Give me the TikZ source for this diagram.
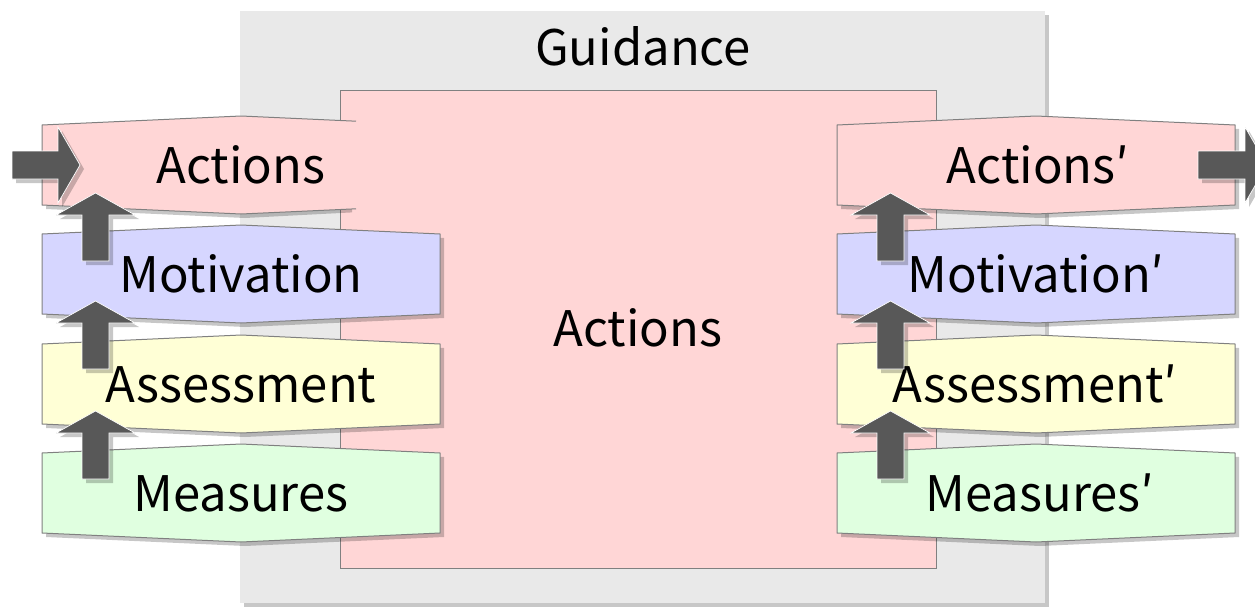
\documentclass[tikz,border=0pt]{standalone}
\usepackage{fontspec}
\setmainfont{Noto Sans CJK JP}
\usetikzlibrary{shadows}
\definecolor{bgGray}{RGB}{233,233,233}
\definecolor{pinkF}{RGB}{255,214,214}
\definecolor{blueF}{RGB}{214,214,255}
\definecolor{yelF}{RGB}{255,255,214}
\definecolor{greenF}{RGB}{224,255,224}
\definecolor{edgeG}{RGB}{128,128,128}
\definecolor{arrG}{RGB}{88,88,88}
\tikzset{
  shd/.style={drop shadow={shadow xshift=4pt, shadow yshift=-4pt, opacity=0.22, fill=black}},
  hexbox/.style={draw=edgeG, line width=1pt, shd},
  lbl/.style={font=\fontsize{49}{49}\selectfont, inner sep=0pt, anchor=base},
  blockarr/.style={fill=arrG, draw=white, line width=0.7pt, shd},
}
\begin{document}
\begin{tikzpicture}[x=1pt,y=-1pt]
\useasboundingbox (0,0) rectangle (1255,610);
\clip (0,0) rectangle (1255,610);
% outer guidance box
\node[fill=bgGray, shd, minimum width=805pt, minimum height=592pt, inner sep=0pt] (guid) at (642.5,307) {};
\node[lbl] (guidT) at (643,66) {Guidance};
% central actions box
\node[draw=edgeG, line width=1pt, fill=pinkF, minimum width=596pt, minimum height=478pt, inner sep=0pt] (act) at (638,329) {};
\node[lbl] (actT) at (638,346) {Actions};
% left actions tab (open to the right)
\fill[black, opacity=0.22] (46,129) -- (245,120) -- (352,124.8) -- (352,212.4) -- (245,218) -- (46,209) -- cycle;
\fill[pinkF] (42,125) -- (241,116) -- (356,121.2) -- (356,208.8) -- (241,214) -- (42,205) -- cycle;
\draw[edgeG, line width=1pt] (356,121.2) -- (241,116) -- (42,125) -- (42,205) -- (241,214) -- (356,208.8);
\node[lbl] (aL) at (241,183) {Actions};
% left boxes
\begin{scope}[shift={(241,274)}]
\path[hexbox, fill=blueF] (-199,-40) -- (0,-49) -- (199,-40) -- (199,40) -- (0,49) -- (-199,40) -- cycle;
\end{scope}
\node[lbl] (mL) at (241,292) {Motivation};
\begin{scope}[shift={(241,384)}]
\path[hexbox, fill=yelF] (-199,-40) -- (0,-49) -- (199,-40) -- (199,40) -- (0,49) -- (-199,40) -- cycle;
\end{scope}
\node[lbl] (asL) at (241,402) {Assessment};
\begin{scope}[shift={(241,493)}]
\path[hexbox, fill=greenF] (-199,-40) -- (0,-49) -- (199,-40) -- (199,40) -- (0,49) -- (-199,40) -- cycle;
\end{scope}
\node[lbl] (meL) at (241,511) {Measures};
% right boxes
\begin{scope}[shift={(1036,165)}]
\path[hexbox, fill=pinkF] (-199,-40) -- (0,-49) -- (199,-40) -- (199,40) -- (0,49) -- (-199,40) -- cycle;
\end{scope}
\node[lbl] (aR) at (1038,183) {Actions′};
\begin{scope}[shift={(1036,274)}]
\path[hexbox, fill=blueF] (-199,-40) -- (0,-49) -- (199,-40) -- (199,40) -- (0,49) -- (-199,40) -- cycle;
\end{scope}
\node[lbl] (mR) at (1036,292) {Motivation′};
\begin{scope}[shift={(1036,384)}]
\path[hexbox, fill=yelF] (-199,-40) -- (0,-49) -- (199,-40) -- (199,40) -- (0,49) -- (-199,40) -- cycle;
\end{scope}
\node[lbl] (asR) at (1035,402) {Assessment′};
\begin{scope}[shift={(1036,493)}]
\path[hexbox, fill=greenF] (-199,-40) -- (0,-49) -- (199,-40) -- (199,40) -- (0,49) -- (-199,40) -- cycle;
\end{scope}
\node[lbl] (meR) at (1040,511) {Measures′};
% up arrows (shaft bottom coordinates)
\foreach \n/\x/\y in {u1/95.5/261, u2/95.5/369, u3/95.5/479, v1/890.5/261, v2/890.5/369, v3/890.5/479}{
  \coordinate (\n) at (\x,\y);
  \path[blockarr, shift={(\n)}] (-13.5,0) -- (-13.5,-46) -- (-39.5,-46) -- (0,-68) -- (39.5,-46) -- (13.5,-46) -- (13.5,0) -- cycle;
}
% horizontal arrows
\coordinate (inA) at (12,165);
\path[blockarr, shift={(inA)}] (0,-14) -- (46,-14) -- (46,-38) -- (68,0) -- (46,38) -- (46,14) -- (0,14) -- cycle;
\coordinate (outA) at (1198,165);
\path[blockarr, shift={(outA)}] (0,-14) -- (47,-14) -- (47,-38) -- (69,0) -- (47,38) -- (47,14) -- (0,14) -- cycle;
\end{tikzpicture}
\end{document}
